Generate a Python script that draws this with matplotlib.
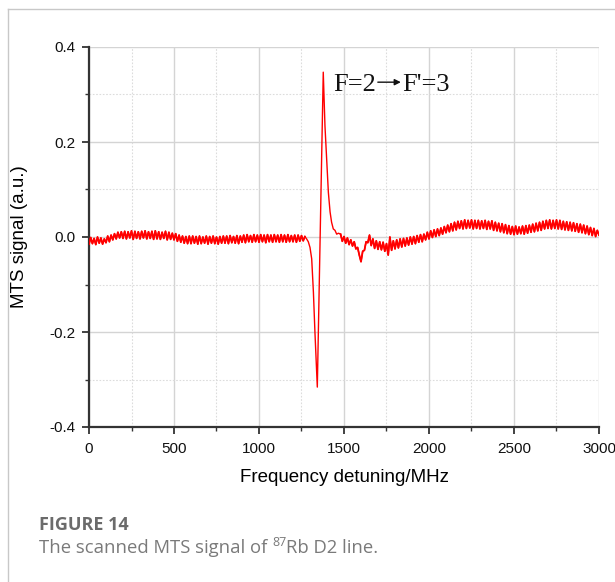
import numpy as np
import matplotlib

matplotlib.use("Agg")
import matplotlib.pyplot as plt
from matplotlib.lines import Line2D
from matplotlib.ticker import MultipleLocator
from matplotlib.transforms import offset_copy

plt.rcParams["font.family"] = ["Liberation Sans", "DejaVu Sans"]
plt.rcParams["axes.unicode_minus"] = False

RED = "#ff0000"
AXIS = "#333333"
GRID = "#d4d4d4"
CAPTION = "#6b6b6b"

# -- data (MHz, a.u.) ------------------------------------------------------
freq_left = list(range(0, 1271, 10))
sig_left = [
    -0.015, -0.001, -0.014, -0.003, -0.016, 0.000, -0.013, -0.002, -0.015, -0.004,
    -0.012, 0.002, -0.010, 0.004, -0.006, 0.007, -0.004, 0.010, -0.002, 0.011,
    -0.003, 0.012, -0.004, 0.011, -0.002, 0.013, -0.005, 0.012, -0.003, 0.011,
    -0.004, 0.012, -0.002, 0.013, -0.004, 0.011, -0.003, 0.012, -0.005, 0.013,
    -0.004, 0.011, -0.005, 0.010, -0.003, 0.012, -0.006, 0.010, -0.005, 0.008,
    -0.006, 0.007, -0.009, 0.004, -0.011, 0.002, -0.013, 0.001, -0.014, 0.002,
    -0.014, 0.002, -0.013, 0.001, -0.015, 0.002, -0.014, 0.000, -0.013, 0.002,
    -0.015, 0.001, -0.013, 0.002, -0.014, 0.000, -0.015, 0.001, -0.013, 0.002,
    -0.013, 0.002, -0.014, 0.003, -0.012, 0.001, -0.013, 0.003, -0.014, 0.002,
    -0.011, 0.004, -0.012, 0.005, -0.010, 0.003, -0.011, 0.005, -0.010, 0.004,
    -0.011, 0.005, -0.010, 0.004, -0.012, 0.005, -0.010, 0.004, -0.011, 0.005,
    -0.010, 0.004, -0.011, 0.005, -0.010, 0.004, -0.011, 0.005, -0.010, 0.003,
    -0.010, 0.004, -0.011, 0.004, -0.009, 0.003, -0.008, 0.001,
]

freq_peak = [1280, 1290, 1300, 1310, 1320, 1329, 1339, 1343, 1378, 1388,
             1398, 1408, 1418, 1427, 1437, 1447, 1457, 1467]
sig_peak = [-0.004, -0.010, -0.022, -0.046, -0.116, -0.200, -0.284, -0.316, 0.347, 0.234,
            0.164, 0.094, 0.053, 0.031, 0.017, 0.014, 0.006, 0.008]

freq_right = list(range(1480, 3001, 10))
sig_right = [
    0.006, -0.009, 0.001, -0.013, -0.002, -0.016, -0.006, -0.019, -0.010, -0.025,
    -0.022, -0.038, -0.052, -0.030, -0.028, -0.010, -0.012, 0.004, -0.018, -0.004,
    -0.024, -0.008, -0.026, -0.010, -0.027, -0.011, -0.030, -0.014, -0.038, 0.000,
    -0.028, -0.008, -0.025, -0.006, -0.023, -0.004, -0.021, -0.003, -0.019, -0.002,
    -0.017, 0.000, -0.015, 0.001, -0.014, 0.003, -0.011, 0.005, -0.010, 0.006,
    -0.006, 0.010, -0.004, 0.013, -0.001, 0.015, 0.001, 0.017, 0.003, 0.019,
    0.006, 0.022, 0.009, 0.025, 0.011, 0.028, 0.013, 0.031, 0.015, 0.033,
    0.018, 0.034, 0.017, 0.036, 0.018, 0.035, 0.019, 0.036, 0.017, 0.035,
    0.018, 0.035, 0.017, 0.034, 0.018, 0.035, 0.016, 0.033, 0.017, 0.034,
    0.014, 0.031, 0.013, 0.029, 0.011, 0.028, 0.009, 0.026, 0.007, 0.024,
    0.006, 0.022, 0.005, 0.023, 0.006, 0.021, 0.007, 0.023, 0.006, 0.024,
    0.008, 0.025, 0.010, 0.027, 0.011, 0.029, 0.013, 0.031, 0.014, 0.033,
    0.017, 0.035, 0.018, 0.036, 0.017, 0.035, 0.018, 0.036, 0.017, 0.035,
    0.016, 0.033, 0.015, 0.032, 0.014, 0.031, 0.013, 0.030, 0.012, 0.028,
    0.010, 0.027, 0.009, 0.025, 0.007, 0.023, 0.005, 0.020, 0.003, 0.018,
    0.001, 0.014, 0.004,
]

freq = np.array(freq_left + freq_peak + freq_right, dtype=float)
signal = np.array(sig_left + sig_peak + sig_right)

x_ticks = [0, 500, 1000, 1500, 2000, 2500, 3000]
y_ticks = [-0.4, -0.2, 0.0, 0.2, 0.4]
y_labels = ["-0.4", "-0.2", "0.0", "0.2", "0.4"]

# -- figure -----------------------------------------------------------------
fig = plt.figure(figsize=(6.15, 5.82), dpi=100)
fig.patch.set_facecolor("white")

# page frame, the figure sits in a bordered panel
fig.add_artist(Line2D([8 / 615, 1.0], [1 - 9 / 582, 1 - 9 / 582], color="#c8c8c8", lw=1.0))
fig.add_artist(Line2D([8 / 615, 8 / 615], [0.0, 1 - 9 / 582], color="#c8c8c8", lw=1.0))

ax = fig.add_axes([89 / 615, 1 - 427 / 582, 510 / 615, 380 / 582])
ax.plot(freq, signal, color=RED, lw=1.0, zorder=3)
# the noisy flat parts read as a thicker band in the scan
ax.plot(freq_left, sig_left, color=RED, lw=1.3, zorder=3)
ax.plot(freq_right, sig_right, color=RED, lw=1.3, zorder=3)

ax.set_xlim(0, 3000)
ax.set_ylim(-0.4, 0.4)
ax.set_xticks(x_ticks)
ax.set_yticks(y_ticks)
ax.set_yticklabels(y_labels)
ax.xaxis.set_minor_locator(MultipleLocator(250))
ax.yaxis.set_minor_locator(MultipleLocator(0.1))

ax.grid(which="major", color=GRID, lw=1.0, ls="-")
ax.grid(which="minor", color="#dcdcdc", lw=0.8, ls=(0, (1.5, 1.5)))
ax.set_axisbelow(True)

for side in ("top", "right"):
    ax.spines[side].set_visible(False)
for side in ("left", "bottom"):
    ax.spines[side].set_color(AXIS)
    ax.spines[side].set_linewidth(1.6)
ax.tick_params(which="major", direction="out", length=5, width=1.3, color=AXIS,
               labelsize=11, labelcolor="#111111")
ax.tick_params(axis="x", which="major", pad=6)
ax.tick_params(axis="y", which="major", pad=5)
ax.tick_params(which="minor", direction="out", length=3, width=1.0, color=AXIS)

ax.set_xlabel("Frequency detuning/MHz", fontsize=13.5, labelpad=9)
ax.set_ylabel("MTS signal (a.u.)", fontsize=13.5, labelpad=15)

# transition label: serif text with a small filled-head arrow between the parts
renderer = fig.canvas.get_renderer()
serif = dict(fontsize=19, ha="left", va="baseline", color="#111111",
             family=["Liberation Serif", "DejaVu Serif"])
lx, ly = 1435, 0.307
p1 = ax.text(lx, ly, "F=2", **serif)
w1 = p1.get_window_extent(renderer).width
ax.annotate("", xy=(lx, ly), xycoords=offset_copy(ax.transData, fig, x=w1 + 25, y=9, units="dots"),
            xytext=(lx, ly), textcoords=offset_copy(ax.transData, fig, x=w1 + 2, y=9, units="dots"),
            arrowprops=dict(arrowstyle="-|>", mutation_scale=9, lw=1.0, color="#111111",
                            shrinkA=0, shrinkB=0))
ax.text(lx, ly, "F'=3", transform=offset_copy(ax.transData, fig, x=w1 + 26, y=0, units="dots"), **serif)

# -- caption ----------------------------------------------------------------
fig.text(39 / 615, 1 - 525 / 582, "FIGURE 14", fontsize=13, fontweight="bold",
         color=CAPTION, family=["Open Sans", "DejaVu Sans"], va="center")

cap_y = 1 - 553 / 582
cap_font = dict(fontsize=13.3, color="#7a7a7a", family=["Open Sans", "DejaVu Sans"], va="baseline")
t1 = fig.text(39 / 615, cap_y, "The scanned MTS signal of ", **cap_font)
x1 = t1.get_window_extent(renderer).x1 / fig.bbox.width
t2 = fig.text(x1, cap_y + 7 / 582, "87", **dict(cap_font, fontsize=9))
x2 = t2.get_window_extent(renderer).x1 / fig.bbox.width
fig.text(x2, cap_y, "Rb D2 line.", **cap_font)

fig.savefig("out.png", dpi=100, facecolor="white")
